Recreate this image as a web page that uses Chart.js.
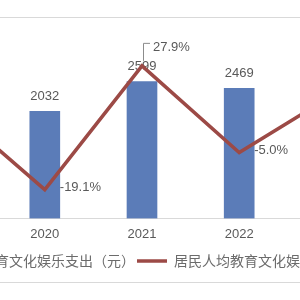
<!DOCTYPE html>
<html>
<head>
<meta charset="utf-8">
<script src="https://cdn.jsdelivr.net/npm/chart.js@4.4.0/dist/chart.umd.min.js"></script>
<style>
  html, body { margin: 0; padding: 0; background: #fff; }
  #wrap { position: relative; width: 300px; height: 300px; overflow: hidden; }
  #c { position: absolute; left: -147px; top: 0; z-index: 1; }
  .frame { position: absolute; left: 0; width: 300px; height: 1px; background: #d9d9d9; z-index: 2; }
</style>
</head>
<body>
<div id="wrap">
  <canvas id="c" width="566" height="300"></canvas>
  <div class="frame" style="top:17px"></div>
  <div class="frame" style="top:282px"></div>
</div>
<script>
// data
const years = ['2019', '2020', '2021', '2022', '2023'];
const spending = [2513, 2032, 2599, 2469, 2904];
const growth = [12.9, -19.1, 27.9, -5.0, 17.6];

const barColor = '#5b7cb8';
const lineColor = '#9c4a46';
const textColor = '#595959';

Chart.defaults.font.family = '"Noto Sans CJK SC", "Liberation Sans", sans-serif';
Chart.defaults.color = textColor;

// value labels
const chartLabels = {
  id: 'chartLabels',
  afterDatasetDraw(chart, args) {
    if (args.index !== 0) return;
    const ctx = chart.ctx;
    ctx.save();
    ctx.font = '13px "Liberation Sans", Arial, sans-serif';
    ctx.fillStyle = textColor;
    ctx.textAlign = 'center';
    ctx.textBaseline = 'middle';
    args.meta.data.forEach((bar, i) => {
      ctx.fillText(spending[i], bar.x, bar.y - 15);
    });
    ctx.restore();
  },
  afterDatasetsDraw(chart) {
    const ctx = chart.ctx;
    const meta = chart.getDatasetMeta(1);
    ctx.save();
    ctx.font = '13px "Liberation Sans", Arial, sans-serif';
    ctx.fillStyle = textColor;
    ctx.textAlign = 'left';
    ctx.textBaseline = 'middle';
    meta.data.forEach((pt, i) => {
      const txt = growth[i].toFixed(1) + '%';
      if (i === 2) {
        // leader line up to the label
        ctx.strokeStyle = '#8c8c8c';
        ctx.lineWidth = 1;
        ctx.beginPath();
        ctx.moveTo(pt.x + 1.5, pt.y - 5);
        ctx.lineTo(pt.x + 1.5, pt.y - 22.5);
        ctx.lineTo(pt.x + 8, pt.y - 22.5);
        ctx.stroke();
        ctx.fillText(txt, pt.x + 11, pt.y - 18);
      } else {
        ctx.fillText(txt, pt.x + 15, pt.y - 2);
      }
    });
    ctx.restore();
  }
};

new Chart(document.getElementById('c'), {
  type: 'bar',
  data: {
    labels: years,
    datasets: [
      {
        type: 'bar',
        label: '居民人均教育文化娱乐支出（元）',
        data: spending,
        backgroundColor: barColor,
        barThickness: 30,
        yAxisID: 'y',
        order: 1,
        pointStyle: 'rect'
      },
      {
        type: 'line',
        label: '居民人均教育文化娱乐支出增长率',
        data: growth,
        borderColor: lineColor,
        backgroundColor: lineColor,
        borderWidth: 3.5,
        tension: 0,
        pointRadius: 0,
        yAxisID: 'y1',
        order: 0,
        pointStyle: 'line'
      }
    ]
  },
  options: {
    responsive: false,
    animation: false,
    layout: { padding: { top: 34, bottom: 22 } },
    plugins: {
      tooltip: { enabled: false },
      legend: {
        position: 'bottom',
        labels: {
          usePointStyle: true,
          pointStyleWidth: 30,
          boxHeight: 8,
          font: { size: 14 },
          color: '#6b6b6b',
          padding: 2,
          sort: (a, b) => a.datasetIndex - b.datasetIndex
        }
      }
    },
    scales: {
      x: {
        grid: { display: false, drawTicks: false },
        border: { color: '#d9d9d9' },
        ticks: { font: { size: 13, family: '"Liberation Sans", Arial, sans-serif' }, color: textColor, padding: 8 },
        afterFit(scale) { scale.height += 2; }
      },
      y: {
        position: 'left',
        min: 0,
        max: 3500,
        ticks: { display: false },
        grid: { display: false },
        border: { display: false },
        afterFit(scale) { scale.width = 46; }
      },
      y1: {
        position: 'right',
        min: -30,
        max: 40,
        ticks: { display: false },
        grid: { display: false },
        border: { display: false },
        afterFit(scale) { scale.width = 34; }
      }
    }
  },
  plugins: [chartLabels]
});
</script>
</body>
</html>
